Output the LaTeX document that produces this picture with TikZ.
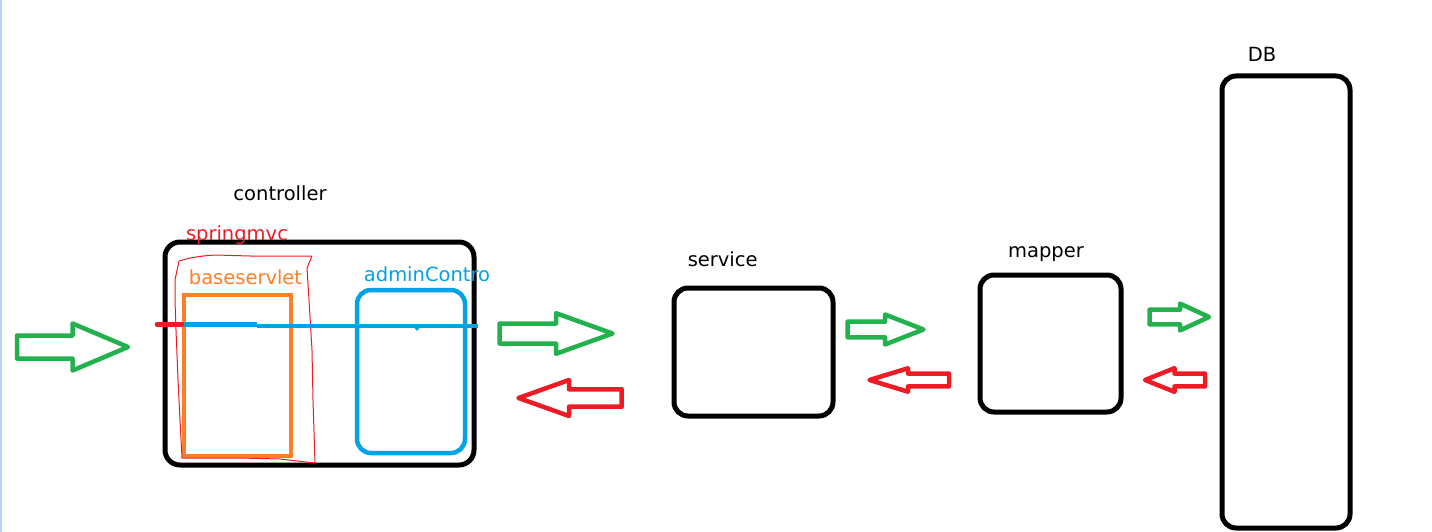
\documentclass[tikz,border=0pt]{standalone}
\usepackage{fontspec}
\setmainfont{DejaVu Sans}
\definecolor{pgreen}{HTML}{22B14C}
\definecolor{pred}{HTML}{ED1C24}
\definecolor{porange}{HTML}{FF7F27}
\definecolor{pblue}{HTML}{00A2E8}
\definecolor{edgeblue}{HTML}{BCD4F4}
% right-pointing block arrow: tail x, head base x, tip x, centre y, shaft half, head half
\newcommand{\rblockarrow}[7]{%
  \draw[#7] (#1,#4-#5) -- (#2,#4-#5) -- (#2,#4-#6) -- (#3,#4) -- (#2,#4+#6) -- (#2,#4+#5) -- (#1,#4+#5) -- cycle;}
\tikzset{
  box/.style={draw=black, line width=5pt, rounded corners=15pt, inner sep=0pt},
  lbl/.style={font=\fontsize{19.5}{23}\selectfont, anchor=base, inner sep=0pt},
  garrow/.style={draw=pgreen, line width=4.5pt, line join=round},
  rarrow/.style={draw=pred, line width=4.5pt, line join=round},
}
\begin{document}
\begin{tikzpicture}[x=1pt,y=-1pt]
\useasboundingbox[fill=white] (0,0) rectangle (1432,532);
\draw[edgeblue, line width=2pt] (1,0) -- (1,532);

% boxes
\node[box, minimum width=309pt, minimum height=223pt] (controller) at (319.5,353.5) {};
\node[draw=porange, line width=4.5pt, inner sep=0pt, minimum width=107pt, minimum height=161pt] (baseservlet) at (237.5,375.5) {};
\node[draw=pblue, line width=4.5pt, rounded corners=14pt, inner sep=0pt, minimum width=108pt, minimum height=163pt] (admin) at (411,371.5) {};
\node[box, rounded corners=14pt, minimum width=159pt, minimum height=128pt] (service) at (753.5,352) {};
\node[box, rounded corners=14pt, minimum width=141pt, minimum height=137pt] (mapper) at (1050.5,343.5) {};
\node[box, rounded corners=14pt, minimum width=128pt, minimum height=452pt] (db) at (1286,302) {};

% hand-drawn springmvc outline
\draw[pred, line width=1pt, line join=round]
  (179,261) -- (190,258) -- (203,256) -- (215,255) -- (250,256) -- (290,256) -- (312,256)
  -- (307,268) -- (309,300) -- (312,350) -- (313,400) -- (315,463)
  -- (280,459) -- (240,458) -- (182,458) -- (180,420) -- (178,380)
  -- (176,330) -- (175,300) -- (175,280) -- cycle;

% request line
\coordinate (reqA) at (157,324.5);
\coordinate (reqB) at (182,324.5);
\coordinate (reqC) at (257,324.5);
\coordinate (reqD) at (257,326);
\coordinate (reqE) at (478,326);
\draw[pblue, line width=4.5pt] (reqB) -- (reqC);
\draw[pblue, line width=4.5pt] (reqD) -- (reqE);
\fill[pblue] (413,326) -- (421,326) -- (417,331) -- cycle;
\draw[pred, line width=4.5pt, line cap=round] (reqA) -- (reqB);

% labels
\node[lbl] (lcontroller) at (280,200.5) {controller};
\node[lbl, text=pred] (lspring) at (237,240) {springmvc};
\node[lbl, text=porange] (lbase) at (245.5,284) {baseservlet};
\node[lbl, text=pblue] (ladmin) at (427,281) {adminContro};
\node[lbl] (lservice) at (722.7,266) {service};
\node[lbl] (lmapper) at (1046,257.3) {mapper};
\node[lbl] (ldb) at (1262,61.7) {DB};

% block arrows
\rblockarrow{17}{72.5}{128}{347}{11.5}{23.5}{garrow}
\rblockarrow{499.5}{556}{612.5}{333.5}{10}{20.3}{garrow}
\rblockarrow{621.7}{569}{518.5}{398}{8.7}{18}{rarrow}
\rblockarrow{847.5}{885}{923.5}{329.5}{7.8}{15}{garrow}
\rblockarrow{949}{908}{869.5}{380}{6.4}{11.7}{rarrow}
\rblockarrow{1149.5}{1180}{1209}{317}{7.3}{13.4}{garrow}
\rblockarrow{1205}{1174.5}{1145}{380}{6.4}{11.8}{rarrow}
\end{tikzpicture}
\end{document}
